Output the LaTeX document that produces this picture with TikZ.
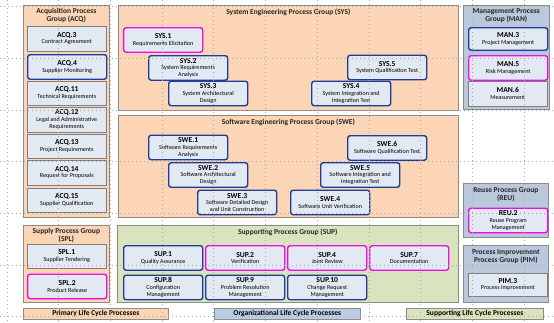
\documentclass[tikz,border=0pt]{standalone}
\usepackage{fontspec}
\setmainfont{Carlito}
\usetikzlibrary{positioning}
\definecolor{peach}{HTML}{FBD5B5}
\definecolor{mgmtblue}{HTML}{B9C8DB}
\definecolor{supgreen}{HTML}{D8E4BD}
\definecolor{orgblue}{HTML}{B9CDE5}
\definecolor{procfill}{HTML}{E2E9F3}
\definecolor{grpline}{HTML}{8F8A86}
\definecolor{procline}{HTML}{7F7F7F}
\definecolor{hlblue}{HTML}{1F3C98}
\definecolor{hlpink}{HTML}{F20AE6}
\tikzset{
  grp/.style = {draw=grpline, line width=0.7pt, anchor=north west, inner sep=0pt},
  grptitle/.style = {font=\fontsize{7.5}{8}\selectfont\bfseries, align=center, inner sep=0pt, text=black!85},
  proc/.style = {draw=procline, fill=procfill, line width=0.6pt, anchor=north west, minimum width=79pt, minimum height=24.5pt, inner sep=0pt, align=center, font=\fontsize{6.1}{6.8}\selectfont},
  procblue/.style = {proc, draw=hlblue, line width=1.4pt, rounded corners=2.5pt},
  procpink/.style = {proc, draw=hlpink, line width=1.4pt, rounded corners=2.5pt},
  lcbar/.style = {draw=grpline, line width=0.7pt, anchor=north west, minimum height=11pt, inner sep=0pt, font=\fontsize{7.5}{8}\selectfont\bfseries},
  gridline/.style = {gray!65, line width=0.5pt, dash pattern=on 0.6pt off 3.4pt},
}
\newcommand{\pid}[1]{{\fontsize{7.6}{7.6}\selectfont\bfseries #1}}

\begin{document}
\begin{tikzpicture}[x=1pt, y=-1pt]
\useasboundingbox (0,0) rectangle (554,322);

% primary life cycle: acquisition
\node[grp, fill=peach, minimum width=86pt, minimum height=212pt] (acq) at (23,5) {};
\node[grptitle, below=3pt of acq.north] (acqtitle) {Acquisition Process\\Group (ACQ)};
\node[proc] (acq3) at (27,26) {\pid{ACQ.3}\\Contract Agreement};
\node[procblue] (acq4) at (27,54) {\pid{ACQ.4}\\Supplier Monitoring};
\node[proc] (acq11) at (27,80.5) {\pid{ACQ.11}\\Technical Requirements};
\node[proc] (acq12) at (27,107) {\pid{ACQ.12}\\Legal and Administrative\\Requirements};
\node[proc] (acq13) at (27,133.5) {\pid{ACQ.13}\\Project Requirements};
\node[proc] (acq14) at (27,160) {\pid{ACQ.14}\\Request for Proposals};
\node[proc] (acq15) at (27,187.5) {\pid{ACQ.15}\\Supplier Qualification};

% supply
\node[grp, fill=peach, minimum width=86pt, minimum height=77pt] (spl) at (23,225) {};
\node[grptitle, below=3pt of spl.north] (spltitle) {Supply Process Group\\(SPL)};
\node[proc] (spl1) at (27,243.5) {\pid{SPL.1}\\Supplier Tendering};
\node[procpink] (spl2) at (27,273.5) {\pid{SPL.2}\\Product Release};

% system engineering
\node[grp, fill=peach, minimum width=340pt, minimum height=105pt] (sys) at (118,5) {};
\node[grptitle, below=4pt of sys.north] (systitle) {System Engineering Process Group (SYS)};
\node[procpink] (sys1) at (123,27) {\pid{SYS.1}\\Requirements Elicitation};
\node[procblue] (sys2) at (148,55) {\pid{SYS.2}\\System Requirements\\Analysis};
\node[procblue] (sys3) at (168,80.5) {\pid{SYS.3}\\System Architectural\\Design};
\node[procblue] (sys4) at (311,80.5) {\pid{SYS.4}\\System Integration and\\Integration Test};
\node[procblue] (sys5) at (347,54.5) {\pid{SYS.5}\\System Qualification Test};

% software engineering
\node[grp, fill=peach, minimum width=340pt, minimum height=102pt] (swe) at (118,115) {};
\node[grptitle, below=4pt of swe.north] (swetitle) {Software Engineering Process Group (SWE)};
\node[procblue] (swe1) at (148,134.5) {\pid{SWE.1}\\Software Requirements\\Analysis};
\node[procblue] (swe2) at (168,162) {\pid{SWE.2}\\Software Architectural\\Design};
\node[procblue] (swe3) at (197,189.5) {\pid{SWE.3}\\Software Detailed Design\\and Unit Construction};
\node[procblue] (swe4) at (290,189.5) {\pid{SWE.4}\\Software Unit Verification};
\node[procblue] (swe5) at (320,162) {\pid{SWE.5}\\Software Integration and\\Integration Test};
\node[procblue] (swe6) at (347,135) {\pid{SWE.6}\\Software Qualification Test};

% supporting
\node[grp, fill=supgreen, minimum width=341pt, minimum height=77pt] (sup) at (117,225) {};
\node[grptitle, below=4pt of sup.north] (suptitle) {Supporting Process Group (SUP)};
\node[procblue] (sup1) at (123,245) {\pid{SUP.1}\\Quality Assurance};
\node[procpink] (sup2) at (205,245) {\pid{SUP.2}\\Verification};
\node[procpink] (sup4) at (287,245) {\pid{SUP.4}\\Joint Review};
\node[procpink] (sup7) at (369,245) {\pid{SUP.7}\\Documentation};
\node[procblue] (sup8) at (123,274.5) {\pid{SUP.8}\\Configuration\\Management};
\node[procblue] (sup9) at (205,274.5) {\pid{SUP.9}\\Problem Resolution\\Management};
\node[procblue] (sup10) at (287,274.5) {\pid{SUP.10}\\Change Request\\Management};

% organizational
\node[grp, fill=mgmtblue, minimum width=86pt, minimum height=104pt] (man) at (463,5) {};
\node[grptitle, below=3pt of man.north] (mantitle) {Management Process\\Group (MAN)};
\node[procblue, minimum height=22.5pt] (man3) at (468,27) {\pid{MAN.3}\\Project Management};
\node[procpink] (man5) at (468,55) {\pid{MAN.5}\\Risk Management};
\node[proc, minimum height=25.5pt] (man6) at (468,80.5) {\pid{MAN.6}\\Measurement};

\node[grp, fill=mgmtblue, minimum width=85pt, minimum height=54pt] (reu) at (463,183) {};
\node[grptitle, below=4pt of reu.north] (reutitle) {Reuse Process Group\\(REU)};
\node[procpink] (reu2) at (468,207.5) {\pid{REU.2}\\Reuse Program\\Management};

\node[grp, fill=mgmtblue, minimum width=85pt, minimum height=57pt] (pim) at (463,245) {};
\node[grptitle, below=4pt of pim.north] (pimtitle) {Process Improvement\\Process Group (PIM)};
\node[proc, minimum height=22.5pt] (pim3) at (468,273) {\pid{PIM.3}\\Process Improvement};

% life cycle bars
\node[lcbar, fill=peach, minimum width=145pt] (primary) at (23,308) {Primary Life Cycle Processes};
\node[lcbar, fill=orgblue, minimum width=146pt] (organizational) at (214,308) {Organizational Life Cycle Processes};
\node[lcbar, fill=supgreen, minimum width=137pt] (supporting) at (406,308) {Supporting Life Cycle Processes};

% grid
\foreach \gx in {0,...,10}
  \draw[gridline] ({6.9+51.7*\gx},0) -- ({6.9+51.7*\gx},322);
\foreach \gy in {0,...,6}
  \draw[gridline] (0,{6.5+51.7*\gy}) -- (554,{6.5+51.7*\gy});

\end{tikzpicture}
\end{document}
